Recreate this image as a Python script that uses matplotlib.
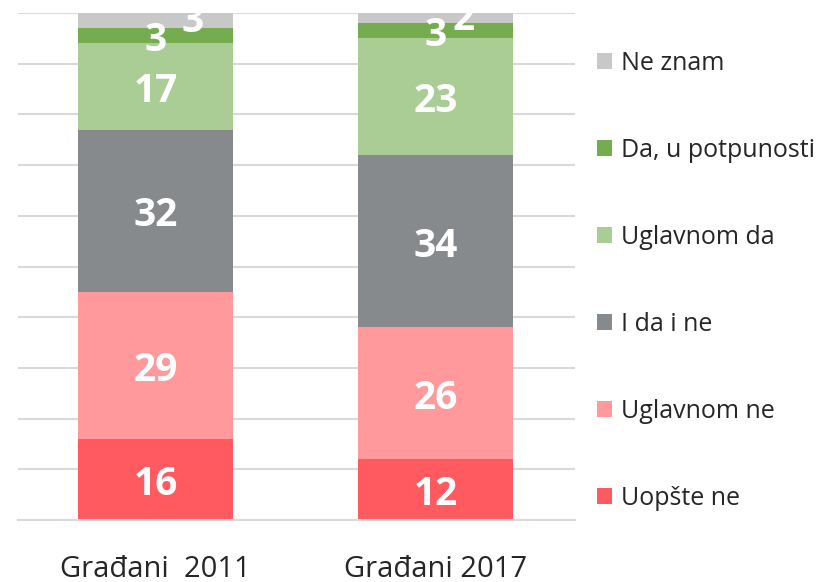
import matplotlib
matplotlib.use('Agg')
import matplotlib.pyplot as plt
import numpy as np

plt.rcParams['font.family'] = ['Open Sans', 'DejaVu Sans']

# Podaci (odozdo prema gore)
kategorije = ['Građani  2011', 'Građani 2017']
serije = ['Uopšte ne', 'Uglavnom ne', 'I da i ne', 'Uglavnom da', 'Da, u potpunosti', 'Ne znam']
uopste_ne = [16, 12]
uglavnom_ne = [29, 26]
i_da_i_ne = [32, 34]
uglavnom_da = [17, 23]
da_u_potpunosti = [3, 3]
ne_znam = [3, 2]

vrijednosti = [uopste_ne, uglavnom_ne, i_da_i_ne, uglavnom_da, da_u_potpunosti, ne_znam]
boje = ['#FF5A5F', '#FF999C', '#878A8D', '#A9CD94', '#75AC4F', '#C8C8C8']

fig = plt.figure(figsize=(8.17, 5.82), dpi=100)
ax = fig.add_axes([18 / 817, 62 / 582, 557 / 817, 507 / 582])

x = np.arange(len(kategorije))
dno = np.zeros(len(kategorije))
sirina = 0.554

for i, (ime, vals, boja) in enumerate(zip(serije, vrijednosti, boje)):
    vals = np.array(vals, dtype=float)
    ax.bar(x, vals, sirina, bottom=dno, color=boja, label=ime, zorder=2)
    for j in range(len(x)):
        yc = dno[j] + vals[j] / 2
        dx, dy = 0, -5
        if ime == 'Ne znam':
            # Excel pomjera oznaku udesno da se ne preklapa
            dx = 37 if j == 0 else 28
            dy = -1
        ax.annotate(str(int(vals[j])), xy=(x[j], yc), xytext=(dx, dy),
                    textcoords='offset pixels', ha='center', va='center',
                    color='white', fontsize=28, fontweight='bold',
                    annotation_clip=False, clip_on=True, zorder=3)
    dno += vals

ax.set_xlim(-0.491, 1.498)
ax.set_ylim(0, 100)
ax.set_yticks(np.arange(0, 101, 10))
ax.yaxis.grid(True, color='#D9D9D9', linewidth=1.5, zorder=0)
ax.set_axisbelow(True)
ax.tick_params(axis='y', left=False, labelleft=False)
ax.tick_params(axis='x', bottom=False, pad=22, labelsize=21, labelcolor='#262626')
ax.set_xticks(x)
ax.set_xticklabels(kategorije)
for s in ['top', 'left', 'right']:
    ax.spines[s].set_visible(False)
ax.spines['bottom'].set_color('#D9D9D9')
ax.spines['bottom'].set_linewidth(1.5)

handles, labels = ax.get_legend_handles_labels()
leg = fig.legend(handles[::-1], labels[::-1], loc='center left',
                 bbox_to_anchor=(597 / 817, 0.517), frameon=False,
                 fontsize=18, handlelength=0.6, handleheight=0.6,
                 handletextpad=0.35, labelspacing=2.48, borderpad=0,
                 borderaxespad=0)
for t in leg.get_texts():
    t.set_color('#262626')

fig.savefig('out.png', dpi=100)
